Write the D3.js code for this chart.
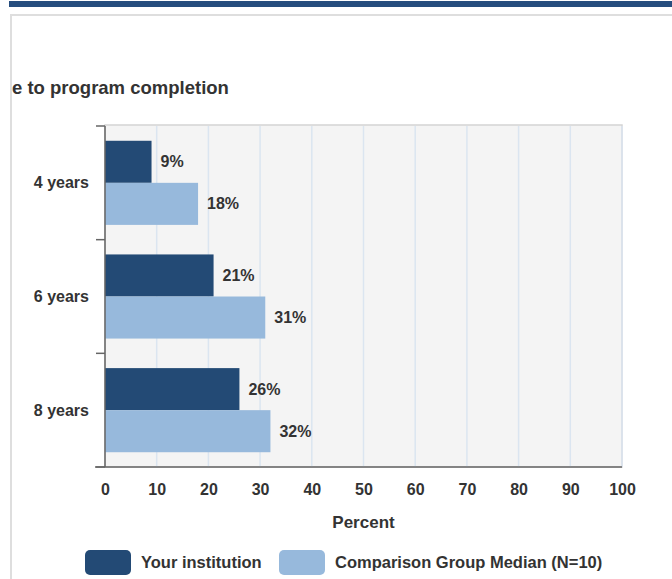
<!DOCTYPE html>
<html>
<head>
<meta charset="utf-8">
<script src="https://cdn.jsdelivr.net/npm/d3@7"></script>
<style>
  html, body { margin: 0; padding: 0; background: #fff; }
  svg { display: block; font-family: "Liberation Sans", Arial, Helvetica, sans-serif; }
  .bold { font-weight: bold; fill: #333; }
</style>
</head>
<body>
<div id="chart"></div>
<script>
const categories = ['4 years', '6 years', '8 years'];
const seriesNames = ['Your institution', 'Comparison Group Median (N=10)'];
const institution = [9, 21, 26];
const comparison = [18, 31, 32];
const xTicks = [0, 10, 20, 30, 40, 50, 60, 70, 80, 90, 100];
const colors = ['#234a75', '#97b9dc'];

const width = 672, height = 579;
const plot = {left: 105, right: 622, top: 125, bottom: 467};

const svg = d3.select('#chart')
  .append('svg')
  .attr('width', width)
  .attr('height', height);

// top banner and panel frame
svg.append('rect')
  .attr('x', 9).attr('y', 1)
  .attr('width', width - 9).attr('height', 6)
  .attr('fill', '#264d7e');
svg.append('path')
  .attr('d', `M11,${height} V15 H${width}`)
  .attr('fill', 'none')
  .attr('stroke', '#dedede')
  .attr('stroke-width', 2);

svg.append('text')
  .attr('class', 'bold')
  .attr('x', 12).attr('y', 94)
  .style('font-size', '18.5px')
  .text('e to program completion');

const x = d3.scaleLinear()
  .domain([0, 100])
  .range([plot.left, plot.right]);
const y = d3.scaleBand()
  .domain(categories)
  .range([plot.top + 1, plot.bottom])
  .paddingInner(0.26)
  .paddingOuter(0.13);
const ySub = d3.scaleBand()
  .domain(d3.range(seriesNames.length))
  .range([0, y.bandwidth()]);

// plot background
svg.append('rect')
  .attr('x', plot.left).attr('y', plot.top)
  .attr('width', plot.right - plot.left)
  .attr('height', plot.bottom - plot.top)
  .attr('fill', '#f4f4f4')
  .attr('stroke', '#d4d4d4')
  .attr('stroke-width', 1.5);

// vertical gridlines
svg.append('g')
  .selectAll('line')
  .data(xTicks.slice(1))
  .join('line')
  .attr('x1', d => x(d)).attr('x2', d => x(d))
  .attr('y1', plot.top + 1).attr('y2', plot.bottom)
  .attr('stroke', '#dbe5f0')
  .attr('stroke-width', 1.5);

// bars
const series = [institution, comparison];
const groups = svg.append('g')
  .selectAll('g')
  .data(categories)
  .join('g')
  .attr('transform', d => `translate(0,${y(d)})`);

groups.selectAll('rect')
  .data((d, i) => series.map((s, j) => ({j, v: s[i]})))
  .join('rect')
  .attr('x', x(0))
  .attr('y', d => ySub(d.j))
  .attr('width', d => x(d.v) - x(0))
  .attr('height', ySub.bandwidth())
  .attr('fill', d => colors[d.j]);

groups.selectAll('text')
  .data((d, i) => series.map((s, j) => ({j, v: s[i]})))
  .join('text')
  .attr('class', 'bold')
  .attr('x', d => x(d.v) + 9)
  .attr('y', d => ySub(d.j) + ySub.bandwidth() / 2)
  .attr('dy', '0.35em')
  .style('font-size', '16px')
  .text(d => d.v + '%');

// y axis: line with ticks at band boundaries
const yAxis = svg.append('g');
yAxis.append('line')
  .attr('x1', plot.left).attr('x2', plot.left)
  .attr('y1', plot.top + 1).attr('y2', plot.bottom)
  .attr('stroke', '#666').attr('stroke-width', 1.5);
const bandEdges = categories.map(c => y(c) - y.step() * y.paddingInner() / 2)
  .concat([plot.bottom]);
bandEdges[0] = plot.top + 1;
yAxis.selectAll('line.tick')
  .data(bandEdges)
  .join('line')
  .attr('class', 'tick')
  .attr('x1', plot.left - 9).attr('x2', plot.left)
  .attr('y1', d => d).attr('y2', d => d)
  .attr('stroke', '#666').attr('stroke-width', 1.5);
yAxis.selectAll('text')
  .data(categories)
  .join('text')
  .attr('class', 'bold')
  .attr('x', 89)
  .attr('y', d => y(d) + y.bandwidth() / 2)
  .attr('dy', '0.35em')
  .attr('text-anchor', 'end')
  .style('font-size', '16px')
  .text(d => d);

// x axis
const xAxis = svg.append('g')
  .attr('transform', `translate(0,${plot.bottom})`)
  .call(d3.axisBottom(x).tickValues(xTicks).tickSize(0).tickPadding(17));
xAxis.select('.domain').remove();
xAxis.append('line')
  .attr('x1', 95).attr('x2', plot.right)
  .attr('stroke', '#666').attr('stroke-width', 1.5);
xAxis.selectAll('.tick text')
  .attr('class', 'bold')
  .attr('fill', '#333')
  .style('font-size', '16px')
  .style('font-family', '"Liberation Sans", Arial, sans-serif');

svg.append('text')
  .attr('class', 'bold')
  .attr('x', (plot.left + plot.right) / 2)
  .attr('y', 528)
  .attr('text-anchor', 'middle')
  .style('font-size', '17px')
  .text('Percent');

// legend
const legendX = [85, 279];
const legend = svg.append('g')
  .selectAll('g')
  .data(seriesNames)
  .join('g')
  .attr('transform', (d, i) => `translate(${legendX[i]},550)`);
legend.append('rect')
  .attr('width', 46).attr('height', 25)
  .attr('rx', 5)
  .attr('fill', (d, i) => colors[i]);
legend.append('text')
  .attr('class', 'bold')
  .attr('x', 56).attr('y', 18)
  .style('font-size', '16.5px')
  .text(d => d);
</script>
</body>
</html>
